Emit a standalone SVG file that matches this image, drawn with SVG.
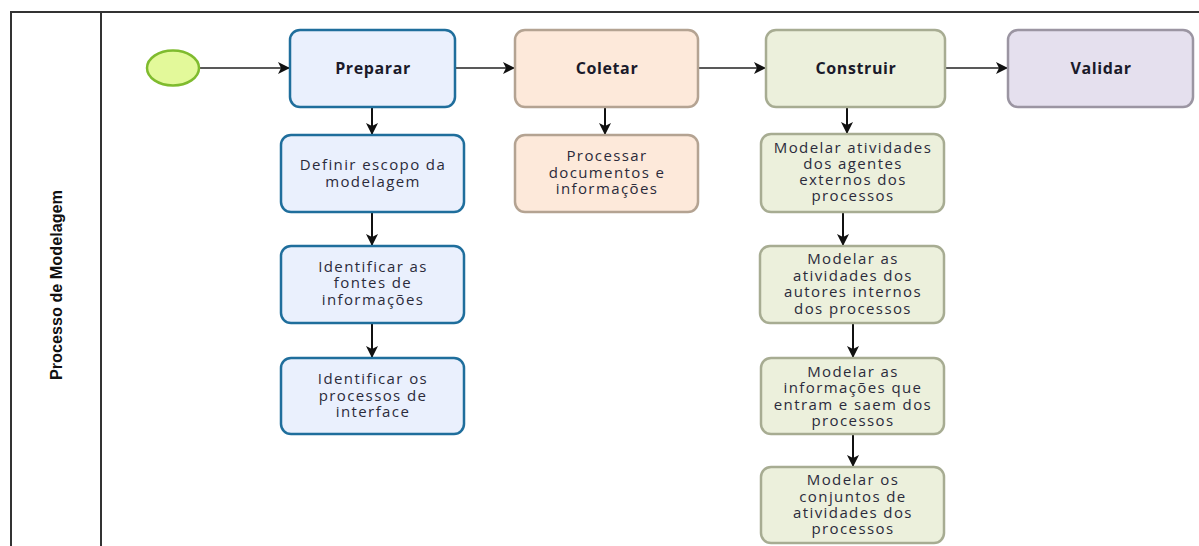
<svg xmlns="http://www.w3.org/2000/svg" width="1199" height="546" viewBox="0 0 1199 546">
<defs>
<marker id="ah" viewBox="0 0 12 12" refX="12" refY="6" markerWidth="12" markerHeight="12" markerUnits="userSpaceOnUse" orient="auto">
<path d="M0,0 L12,6 L0,12 L3,6 Z" fill="#111"/>
</marker>
<style>
.frame{fill:none;stroke:#333;stroke-width:2}
.lane{font-family:"Liberation Sans",Arial,sans-serif;font-weight:bold;font-size:17px;fill:#111}
.t{font-family:"Open Sans","DejaVu Sans",sans-serif;font-size:15px;letter-spacing:1.4px;fill:#2b2b3b;text-anchor:middle}
.h{font-family:"Open Sans","DejaVu Sans",sans-serif;font-size:16px;letter-spacing:0.6px;font-weight:bold;fill:#1a1a2a;text-anchor:middle}
.blue{fill:#eaf0fd;stroke:#1f6e9c;stroke-width:2.5}
.tan{fill:#fde9da;stroke:#b4a392;stroke-width:2.5}
.grn{fill:#ecf0dc;stroke:#a7ac92;stroke-width:2.5}
.vio{fill:#e5e0ee;stroke:#9b95a2;stroke-width:2.5}
.c{fill:none;stroke:#222;stroke-width:1.5;marker-end:url(#ah)}
.cv{fill:none;stroke:#111;stroke-width:2;marker-end:url(#ah)}
</style>
</defs>
<rect width="1199" height="546" fill="#fff"/>
<g id="pool">
<path class="frame" d="M11,547 L11,12 L1200,12 M101,12 L101,547"/>
<text class="lane" transform="translate(62,285) rotate(-90)" text-anchor="middle" textLength="190" lengthAdjust="spacingAndGlyphs">Processo de Modelagem</text>
</g>
<g id="connectors">
<line class="c" x1="200" y1="68" x2="290" y2="68"/>
<line class="c" x1="455" y1="68" x2="515" y2="68"/>
<line class="c" x1="698" y1="68" x2="766" y2="68"/>
<line class="c" x1="945" y1="68" x2="1008" y2="68"/>
<line class="cv" x1="372" y1="107" x2="372" y2="135"/>
<line class="cv" x1="372" y1="212" x2="372" y2="246"/>
<line class="cv" x1="372" y1="323" x2="372" y2="358"/>
<line class="cv" x1="605" y1="107" x2="605" y2="135"/>
<line class="cv" x1="847" y1="107" x2="847" y2="134"/>
<line class="cv" x1="843" y1="212" x2="843" y2="246"/>
<line class="cv" x1="853" y1="323" x2="853" y2="358"/>
<line class="cv" x1="853" y1="434" x2="853" y2="467"/>
</g>
<g id="start">
<ellipse cx="173" cy="68" rx="26" ry="17.5" fill="#e3f99a" stroke="#7fbb2e" stroke-width="2.5"/>
</g>
<g id="preparar">
<rect class="blue" x="290" y="30" width="165" height="77" rx="10"/>
<text class="h" x="373" y="74">Preparar</text>
</g>
<g id="coletar">
<rect class="tan" x="515" y="30" width="183" height="77" rx="10"/>
<text class="h" x="607" y="74">Coletar</text>
</g>
<g id="construir">
<rect class="grn" x="766" y="30" width="179" height="77" rx="10"/>
<text class="h" x="856" y="74">Construir</text>
</g>
<g id="validar">
<rect class="vio" x="1008" y="30" width="185" height="77" rx="10"/>
<text class="h" x="1101" y="74">Validar</text>
</g>
<g id="definir">
<rect class="blue" x="281" y="135" width="183" height="77" rx="10"/>
<text class="t" x="373" y="170">Definir escopo da</text>
<text class="t" x="373" y="187">modelagem</text>
</g>
<g id="fontes">
<rect class="blue" x="281" y="246" width="183" height="77" rx="10"/>
<text class="t" x="373" y="272">Identificar as</text>
<text class="t" x="373" y="288">fontes de</text>
<text class="t" x="373" y="305">informações</text>
</g>
<g id="interface">
<rect class="blue" x="281" y="358" width="183" height="76" rx="10"/>
<text class="t" x="373" y="384">Identificar os</text>
<text class="t" x="373" y="401">processos de</text>
<text class="t" x="373" y="417">interface</text>
</g>
<g id="processar">
<rect class="tan" x="515" y="135" width="183" height="77" rx="10"/>
<text class="t" x="607" y="161">Processar</text>
<text class="t" x="607" y="178">documentos e</text>
<text class="t" x="607" y="194">informações</text>
</g>
<g id="externos">
<rect class="grn" x="761" y="134" width="183" height="78" rx="10"/>
<text class="t" x="853" y="153">Modelar atividades</text>
<text class="t" x="853" y="169">dos agentes</text>
<text class="t" x="853" y="185">externos dos</text>
<text class="t" x="853" y="201">processos</text>
</g>
<g id="internos">
<rect class="grn" x="760" y="246" width="184" height="77" rx="10"/>
<text class="t" x="853" y="264">Modelar as</text>
<text class="t" x="853" y="281">atividades dos</text>
<text class="t" x="853" y="297">autores internos</text>
<text class="t" x="853" y="314">dos processos</text>
</g>
<g id="informacoes">
<rect class="grn" x="761" y="358" width="183" height="76" rx="10"/>
<text class="t" x="853" y="377">Modelar as</text>
<text class="t" x="853" y="393">informações que</text>
<text class="t" x="853" y="410">entram e saem dos</text>
<text class="t" x="853" y="426">processos</text>
</g>
<g id="conjuntos">
<rect class="grn" x="761" y="467" width="183" height="76" rx="10"/>
<text class="t" x="853" y="485">Modelar os</text>
<text class="t" x="853" y="502">conjuntos de</text>
<text class="t" x="853" y="518">atividades dos</text>
<text class="t" x="853" y="534">processos</text>
</g>
</svg>
